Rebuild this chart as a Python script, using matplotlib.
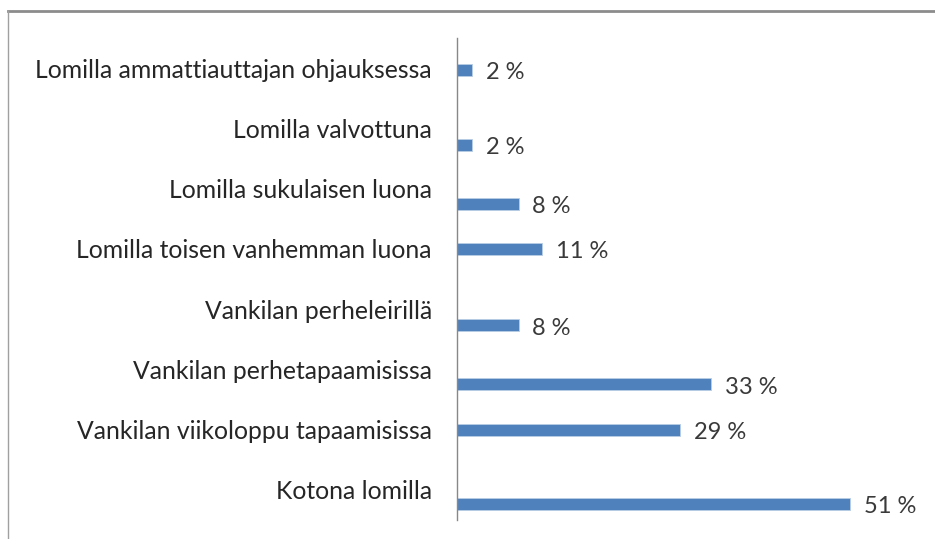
import matplotlib.pyplot as plt
from matplotlib.lines import Line2D

# Data (top to bottom as shown)
categories = [
    'Lomilla ammattiauttajan ohjauksessa',
    'Lomilla valvottuna',
    'Lomilla sukulaisen luona',
    'Lomilla toisen vanhemman luona',
    'Vankilan perheleirillä',
    'Vankilan perhetapaamisissa',
    'Vankilan viikoloppu tapaamisissa',
    'Kotona lomilla',
]
values = [2, 2, 8, 11, 8, 33, 29, 51]

# bars sit a bit below their labels in the original, by a varying amount
bar_shift = [0.03, 0.27, 0.25, 0.0, 0.27, 0.25, 0.0, 0.23]

plt.rcParams['font.family'] = ['Lato', 'DejaVu Sans']

fig = plt.figure(figsize=(9.35, 5.39), dpi=100)
ax = fig.add_axes([457 / 935, 1 - 520 / 539, 462 / 935, 482 / 539])

pos = list(range(len(categories)))
bar_pos = [p + s for p, s in zip(pos, bar_shift)]
ax.barh(bar_pos, values, height=0.2, color='#4F81BD', edgecolor='#B9CDE5', linewidth=0.6)

for y, v in zip(bar_pos, values):
    ax.annotate(f'{v} %', (v, y), xytext=(10, -2), textcoords='offset points',
                va='center', ha='left', fontsize=17, color='#3A3A3A')

ax.set_xlim(0, 60)
ax.set_ylim(len(categories) - 0.5, -0.5)
ax.set_yticks(pos)
ax.set_yticklabels(categories, fontsize=17.8, color='#262626')
ax.tick_params(axis='y', length=0, pad=18)
ax.set_xticks([])

for s in ['top', 'right', 'bottom']:
    ax.spines[s].set_visible(False)
ax.spines['left'].set_color('#888888')
ax.spines['left'].set_linewidth(1.0)

# outer chart frame (cut off at right and bottom)
fig.add_artist(Line2D([8 / 935, 1], [1 - 11 / 539, 1 - 11 / 539], color='#8C8C8C', lw=2))
fig.add_artist(Line2D([8 / 935, 8 / 935], [0, 1 - 11 / 539], color='#A0A0A0', lw=1))

fig.savefig('out.png', dpi=100)
